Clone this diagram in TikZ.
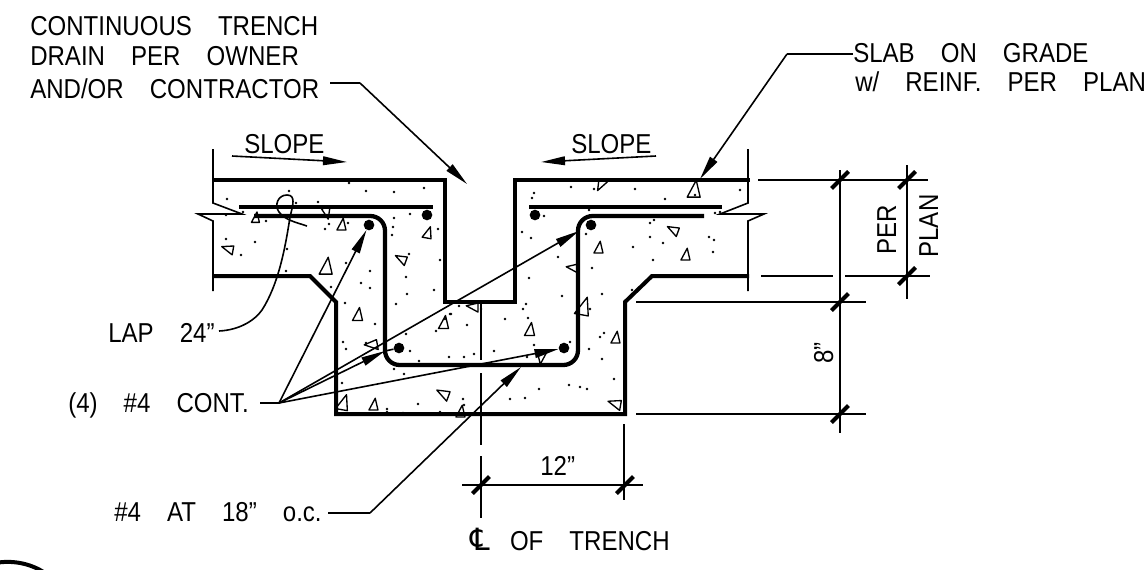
\documentclass[tikz,border=0pt]{standalone}
\usepackage{fontspec}
\setmainfont[FakeStretch=0.88,WordSpace=3.9]{Liberation Sans}
\newfontfamily\clfont{DejaVu Sans}
\usetikzlibrary{arrows.meta}

\tikzset{
  heavy/.style = {line width = 3pt, line join = miter},
  rebar/.style = {line width = 3.2pt, rounded corners = 11pt},
  thinline/.style = {line width = 1.2pt},
  leader/.style = {line width = 1.2pt, -{Triangle[length = 18pt, width = 6.5pt]}},
  tickmark/.style = {line width = 3pt},
  aggr/.style = {line width = 1pt, line join = round},
  bardot/.style = {circle, fill = black, inner sep = 0, minimum size = 8pt},
  label/.style = {inner sep = 0, anchor = base west, font = \fontsize{20.5}{22}\selectfont},
  vlabel/.style = {inner sep = 0, anchor = base, rotate = 90, font = \fontsize{20.5}{22}\selectfont}
}

\begin{document}
\begin{tikzpicture}[x = 0.75pt, y = -0.75pt]
\useasboundingbox (0, 0) rectangle (1147, 569);
\clip (0, 0) rectangle (1147, 569);

% stipple in the concrete
\foreach \x/\y in {349/183, 366/191, 394/192, 424/188, 289/191, 227/199, 296/203, 318/202,
  243/212, 226/215, 266/221, 329/224, 325/229, 348/223, 394/218, 410/214, 393/227, 392/235,
  438/229, 226/239, 255/242, 241/255, 287/249, 286/271, 409/254, 440/260, 346/263, 370/271,
  406/277, 361/283, 370/288, 331/287, 434/290, 407/294, 345/303, 396/304, 450/314, 445/319,
  571/187, 594/189, 635/189, 740/190, 665/199, 534/193, 532/198, 589/210, 544/216, 715/213,
  720/212, 654/220, 650/223, 522/232, 531/238, 586/234, 650/237, 663/243, 633/247, 709/237,
  714/240, 713/252, 558/257, 653/260, 592/268, 529/278, 562/296, 602/294, 632/290, 526/304,
  523/309, 590/309, 505/319, 528/318, 695/195, 375/324, 343/342, 346/349, 366/343, 406/334,
  410/351, 419/361, 449/357, 464/357, 474/354, 494/351, 436/331, 451/314, 459/306, 467/325,
  481/309, 534/345, 527/357, 570/342, 589/349, 600/337, 604/333, 602/359, 614/379, 394/369,
  404/374, 342/383, 418/404, 387/409, 387/412, 403/413, 440/412, 463/399, 464/405, 510/399,
  525/398, 539/389, 569/385, 580/387, 587/389}
  \fill (\x, \y) circle (1pt);

% aggregate
\foreach \x/\y/\r/\s in {328/212/200/9, 255/218/0/8, 341/225/0/9, 427/233/-10/9, 228/250/80/9,
  401/260/70/9, 325/267/0/13, 357/315/0/10, 473/308/90/9, 602/185/160/9, 693/190/0/13,
  673/231/70/9, 598/248/0/9, 685/255/0/9, 573/269/90/9, 582/307/-10/14, 443/323/0/10,
  529/330/0/10, 615/338/0/9, 372/346/100/10, 543/356/180/11, 443/395/70/10, 342/403/-10/12,
  373/405/0/9, 615/405/80/10, 460/412/0/9}
  \draw[aggr, shift = {(\x, \y)}, rotate = \r, scale = \s] (-0.45, 0.55) -- (0.55, 0.55) -- (0.25, -0.75) -- cycle;

% slab and trench outline
\draw[heavy] (213, 180) -- (445, 180) -- (445, 302) -- (515, 302) -- (515, 180) -- (750, 180);
\draw[heavy] (213, 276) -- (310, 276) -- (336, 302) -- (336, 414) -- (625, 414) -- (625, 302) -- (652, 276) -- (749, 276);

% break lines
\draw[thinline] (213, 149) -- (213, 203) -- (242, 214) -- (198, 214) -- (213, 221) -- (213, 291);
\draw[thinline] (748, 149) -- (748, 203) -- (720, 214) -- (764, 214) -- (748, 221) -- (748, 291);

% bars
\draw[rebar] (239, 207) -- (433, 207);
\draw[rebar] (529, 207) -- (722, 207);
\draw[rebar] (254, 216) -- (385, 216) -- (385, 365) -- (578, 365) -- (578, 216) -- (704, 216);
\node[bardot] (bara) at (427, 215) {};
\node[bardot] (barb) at (369, 225) {};
\node[bardot] (barc) at (535, 215) {};
\node[bardot] (bard) at (591, 225) {};
\node[bardot] (bare) at (399, 348) {};
\node[bardot] (barf) at (564, 348) {};

% center line
\draw[thinline] (481, 302) -- (481, 360);
\draw[thinline] (481, 373) -- (481, 445);
\draw[thinline] (481, 456) -- (481, 518);

% dimension lines
\draw[thinline] (840, 170) -- (840, 433);
\draw[thinline] (907, 165) -- (907, 299);
\draw[thinline] (758, 180) -- (928, 180);
\draw[thinline] (761, 276) -- (833, 276);
\draw[thinline] (845, 276) -- (930, 276);
\draw[thinline] (636, 302) -- (866, 302);
\draw[thinline] (636, 414) -- (866, 414);
\draw[thinline] (462, 485) -- (643, 485);
\draw[thinline] (624, 424) -- (624, 500);
\foreach \x/\y in {840/180, 907/180, 907/276, 840/302, 840/414, 481/485, 625/485}
  \draw[tickmark, shift = {(\x, \y)}] (-8.5, 8.5) -- (8.5, -8.5);

% labels
\node[label] (trencha) at (30, 35) {CONTINUOUS TRENCH};
\node[label] (trenchb) at (30, 65) {DRAIN PER OWNER};
\node[label] (trenchc) at (30, 98) {AND/OR CONTRACTOR};
\node[label] (slaba) at (853, 62) {SLAB ON GRADE};
\node[label] (slabb) at (855, 91) {w/ REINF. PER PLAN};
\node[label] (slopea) at (244, 153) {SLOPE};
\node[label] (slopeb) at (571, 153) {SLOPE};
\node[label] (lap) at (108, 342) {LAP 24”};
\node[label] (cont) at (68, 412) {(4) \#4 CONT.};
\node[label] (hoop) at (114, 521) {\#4 AT 18” o.c.};
\node[label] (twelve) at (540, 475) {12”};
\node[label] (trenchcl) at (470, 550) {{\clfont\fontsize{23}{23}\selectfont ℄}\kern-4.5pt{} OF TRENCH};
\node[vlabel] (eight) at (833, 353) {8”};
\node[vlabel] (per) at (896, 230) {PER};
\node[vlabel] (plan) at (938, 226) {PLAN};

% leaders
\coordinate (trenchbend) at (360, 83);
\coordinate (trenchtip) at (467, 184);
\draw[thinline] (330, 83) -- (trenchbend);
\draw[leader] (trenchbend) -- (trenchtip);
\coordinate (slabbend) at (787, 54);
\coordinate (slabtip) at (700, 179);
\draw[thinline] (slaba.west |- slabbend) -- (slabbend);
\draw[leader] (slabbend) -- (slabtip);
\coordinate (fan) at (279, 403);
\coordinate (tipd) at (579, 231);
\coordinate (tipe) at (385, 351);
\draw[thinline] (260, 403) -- (fan);
\draw[leader] (fan) -- (barb);
\draw[leader] (fan) -- (tipd);
\draw[leader] (fan) -- (tipe);
\draw[thinline] (tipe) -- (bare);
\draw[leader] (fan) -- (barf);
\coordinate (hoopbend) at (370, 513);
\coordinate (hooptip) at (521, 367);
\draw[thinline] (328, 513) -- (hoopbend);
\draw[leader] (hoopbend) -- (hooptip);
\coordinate (slopeat) at (232, 156);
\coordinate (slopeatip) at (347, 162);
\coordinate (slopebt) at (656, 156);
\coordinate (slopebtip) at (541, 162);
\draw[leader] (slopeat) -- (slopeatip);
\draw[leader] (slopebt) -- (slopebtip);

% lap splice
\draw[thinline] (219, 331) .. controls (240, 330) and (255, 320) .. (262, 310)
  .. controls (278, 285) and (285, 250) .. (290, 217)
  .. controls (293, 205) and (296, 195) .. (287, 195)
  .. controls (278, 195) and (274, 205) .. (279, 212)
  .. controls (285, 220) and (295, 222) .. (307, 226);

% detail bubble
\draw[heavy] (-5, 563) .. controls (12, 560) and (30, 563) .. (45, 573);
\end{tikzpicture}
\end{document}
